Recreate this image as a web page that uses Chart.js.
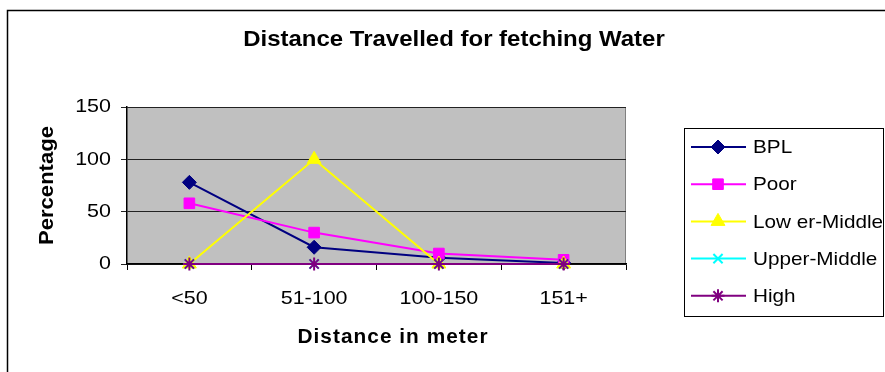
<!DOCTYPE html>
<html><head><meta charset="utf-8">
<script src="https://cdn.jsdelivr.net/npm/chart.js@4.4.1/dist/chart.umd.min.js"></script>
<style>html,body{margin:0;padding:0;background:#fff;}#wrap{width:885px;height:372px;position:relative;}</style>
</head><body><div id="wrap"><canvas id="c" width="885" height="372"></canvas></div>
<script>
const categories = ["<50", "51-100", "100-150", "151+"];
const bpl = [78, 16, 6, 1];
const poor = [58, 30, 10, 4];
const lowerMiddle = [0, 100, 0, 0];
const upperMiddle = [0, 0, 0, 0];
const high = [0, 0, 0, 0];
const yTicks = [0, 50, 100, 150];
const seriesNames = ["BPL", "Poor", "Low er-Middle", "Upper-Middle", "High"];
const chartTitle = "Distance Travelled for fetching Water";
const xTitle = "Distance in meter";
const yTitle = "Percentage";

const FONT = "'Liberation Sans', Arial, sans-serif";

// Slight horizontal widening of text, as in the reference rendering
const _ft = CanvasRenderingContext2D.prototype.fillText;
CanvasRenderingContext2D.prototype.fillText = function (t, x, y) {
  const sx = this._sx || (this.font.indexOf('bold') >= 0 ? 1.05 : 1.13);
  this.save(); this.translate(x, y); this.scale(sx, 1); _ft.call(this, t, 0, 0); this.restore();
};

const bgPlugin = {
  id: 'bg',
  beforeDraw(chart) {
    const {ctx, chartArea: a} = chart;
    ctx.save();
    ctx.fillStyle = '#fff';
    ctx.fillRect(0, 0, chart.width, chart.height);
    ctx.strokeStyle = '#000'; ctx.lineWidth = 1.5;
    ctx.beginPath(); ctx.moveTo(7.5, 372); ctx.lineTo(7.5, 10.5); ctx.lineTo(885, 10.5); ctx.stroke();
    ctx.fillStyle = '#C0C0C0';
    ctx.fillRect(a.left, a.top, a.right - a.left, a.bottom - a.top);
    ctx.strokeStyle = '#808080'; ctx.lineWidth = 1;
    ctx.beginPath(); ctx.moveTo(a.left, a.top + 0.5); ctx.lineTo(a.right - 0.5, a.top + 0.5); ctx.lineTo(a.right - 0.5, a.bottom); ctx.stroke();
    ctx.fillStyle = '#000';
    ctx.font = "bold 22px " + FONT;
    ctx.textAlign = 'center'; ctx.textBaseline = 'middle';
    ctx._sx = 1.09;
    ctx.fillText(chartTitle, 454, 40);
    ctx._sx = 0;
    ctx.font = "bold 20px " + FONT;
    ctx.letterSpacing = '1px';
    ctx._sx = 1.04;
    ctx.fillText(xTitle, 393, 337);
    ctx._sx = 0;
    ctx.letterSpacing = '0px';
    ctx.restore();
  },
  afterDraw(chart) {
    const {ctx} = chart;
    ctx.save();
    ctx.fillStyle = '#fff';
    ctx.fillRect(684, 128, 200, 189);
    ctx.strokeStyle = '#000'; ctx.lineWidth = 1;
    ctx.strokeRect(684.5, 128.5, 199, 188);
    chart.data.datasets.forEach((ds, i) => {
      const y = 147 + i * 37.2;
      ctx.strokeStyle = ds.borderColor; ctx.lineWidth = 2;
      ctx.beginPath(); ctx.moveTo(691, y); ctx.lineTo(746, y); ctx.stroke();
      ctx.fillStyle = ds.pointBackgroundColor; ctx.strokeStyle = ds.pointBorderColor;
      ctx.lineWidth = ds.pointBorderWidth;
      Chart.helpers.drawPoint(ctx, {pointStyle: ds.pointStyle, radius: ds.pointRadius, rotation: 0, borderWidth: ds.pointBorderWidth}, 718, y);
      ctx.fillStyle = '#000';
      ctx.font = "19px " + FONT;
      ctx.textAlign = 'left'; ctx.textBaseline = 'middle';
      ctx._sx = 1.09;
      ctx.fillText(ds.label, 753, y + 1);
      ctx._sx = 0;
    });
    ctx.restore();
  }
};

function mk(label, data, color, style, radius, bw, order) {
  return {label, data, order, clip: false, borderColor: color, backgroundColor: color, pointStyle: style,
    pointRadius: radius, pointHoverRadius: radius, pointBorderColor: color, pointBackgroundColor: color,
    pointBorderWidth: bw, borderWidth: 2, tension: 0, fill: false};
}

const chart = new Chart(document.getElementById('c'), {
  type: 'line',
  data: {
    labels: categories,
    datasets: [
      mk(seriesNames[0], bpl, '#000080', 'rectRot', 7, 1, 5),
      mk(seriesNames[1], poor, '#FF00FF', 'rect', 7.5, 1, 4),
      mk(seriesNames[2], lowerMiddle, '#FFFF00', 'triangle', 8, 1, 3),
      mk(seriesNames[3], upperMiddle, '#00FFFF', 'crossRot', 6.5, 2, 2),
      mk(seriesNames[4], high, '#800080', 'star', 6.5, 2, 1)
    ]
  },
  options: {
    responsive: false, animation: false, events: [],
    layout: {padding: {top: 107, left: 0, right: 259, bottom: 0}},
    plugins: {legend: {display: false}, title: {display: false}, tooltip: {enabled: false}},
    scales: {
      x: {
        offset: true,
        afterFit(s) { s.height = 108; },
        grid: {drawOnChartArea: false, drawTicks: true, tickLength: 6, color: '#000', offset: true},
        border: {color: '#000', width: 1.5},
        ticks: {color: '#000', font: {family: FONT, size: 19}, padding: 17},
        title: {display: false}
      },
      y: {
        min: 0, max: 150,
        afterFit(s) { s.width = 127; },
        afterBuildTicks(s) { s.ticks = yTicks.map(v => ({value: v})); },
        grid: {color: '#222', tickLength: 6, drawTicks: true, lineWidth: 1},
        border: {color: '#000', width: 1.5},
        ticks: {color: '#000', font: {family: FONT, size: 19}, padding: 10},
        title: {display: true, text: yTitle, color: '#000', font: {family: FONT, size: 21, weight: 'bold'}, padding: {top: 35, bottom: 0}}
      }
    }
  },
  plugins: [bgPlugin]
});
</script>
</body></html>
